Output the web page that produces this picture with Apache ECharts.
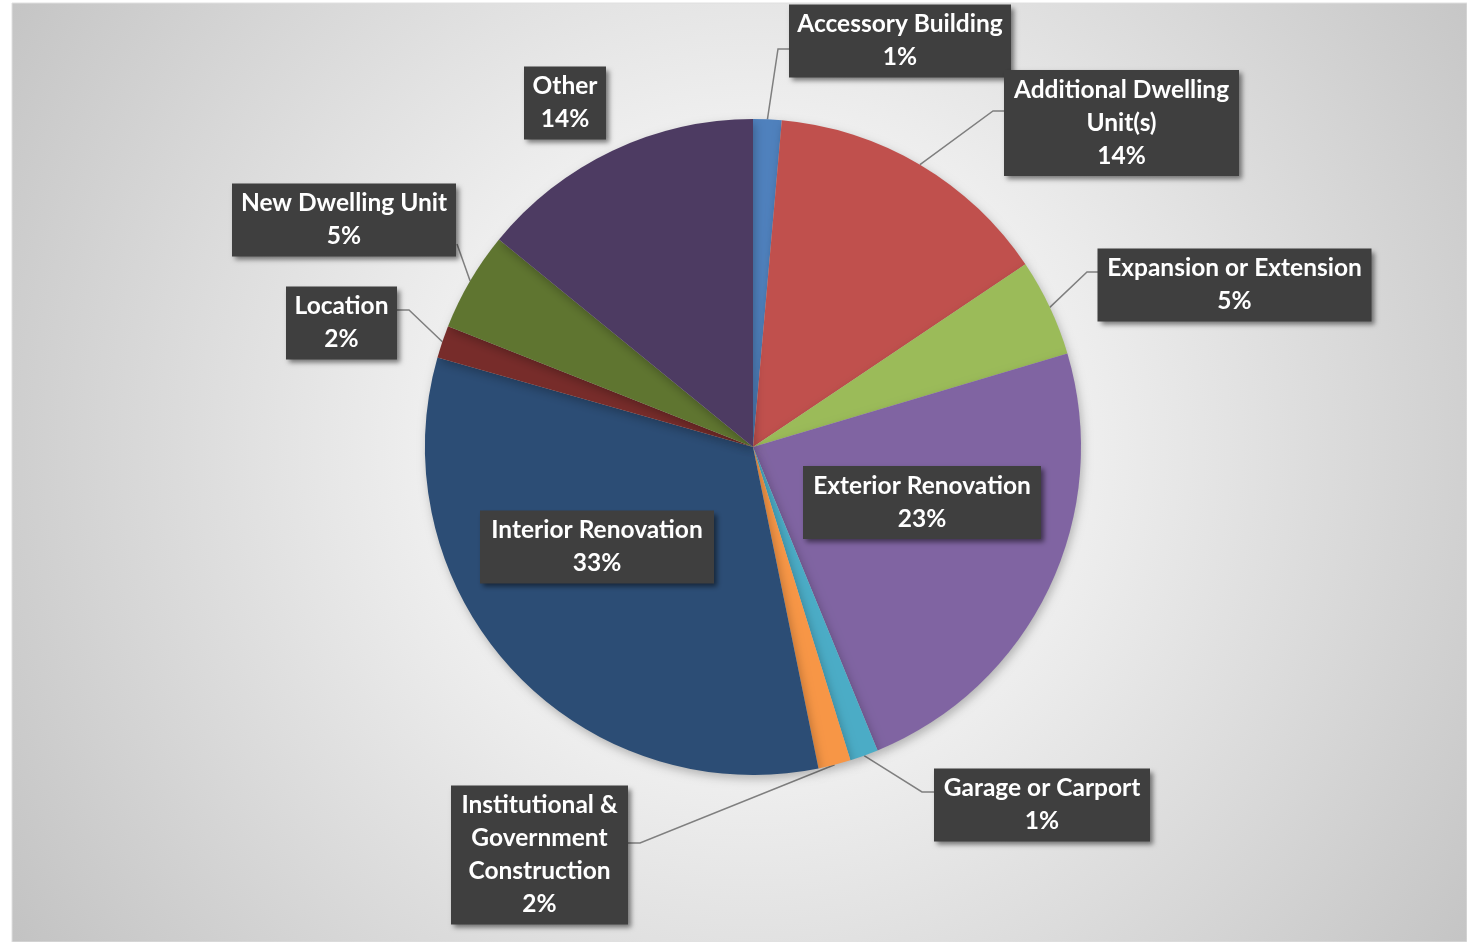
<!DOCTYPE html>
<html>
<head>
<meta charset="utf-8">
<script src="https://cdn.jsdelivr.net/npm/echarts@6/dist/echarts.min.js"></script>
<style>
html,body{margin:0;padding:0;background:#fff;}
#chart{width:1467px;height:942px;}
</style>
</head>
<body>
<div id="chart"></div>
<script>
// ---- data ----
const categories = ['Accessory Building','Additional Dwelling Unit(s)','Expansion or Extension','Exterior Renovation','Garage or Carport','Institutional & Government Construction','Interior Renovation','Location','New Dwelling Unit','Other'];
const shares = [1.4, 14.2, 4.8, 23.4, 1.4, 1.6, 32.6, 1.6, 4.9, 14.1];
const colors = ['#4F81BD','#C0504D','#9BBB59','#8064A2','#4BACC6','#F79646','#2C4D75','#772C2A','#5F7530','#4D3B62'];
const wrappedNames = {
  'Additional Dwelling Unit(s)': 'Additional Dwelling\nUnit(s)',
  'Institutional & Government Construction': 'Institutional &\nGovernment\nConstruction'
};

// ---- layout (label box centres, widths and leader-line bends, in px) ----
const labelBoxes = [
  {cx: 900,   cy: 41,    w: 222, line: [[778,49],[789,49]]},
  {cx: 1121.5,cy: 123,   w: 235, line: [[993,111],[1004,111]]},
  {cx: 1234.5,cy: 285,   w: 274, line: [[1087,272],[1098,272]]},
  {cx: 922,   cy: 502.5, w: 238, line: null},
  {cx: 1042,  cy: 805,   w: 216, line: [[922,792],[934,792]]},
  {cx: 539.5, cy: 855,   w: 177, line: [[640,843],[628,843]]},
  {cx: 597,   cy: 547,   w: 234, line: null},
  {cx: 341.5, cy: 323,   w: 111, line: [[409,310],[397,310]]},
  {cx: 344,   cy: 220,   w: 224, line: [[457,244]]},
  {cx: 565,   cy: 103,   w: 82,  line: null}
];

const chart = echarts.init(document.getElementById('chart'), null, {renderer: 'canvas'});

const data = categories.map((name, i) => ({
  name: name,
  value: shares[i],
  itemStyle: {color: colors[i]},
  label: {width: labelBoxes[i].w - 16},
  labelLine: {show: !!labelBoxes[i].line}
}));

chart.setOption({
  animation: false,
  backgroundColor: '#ffffff',
  graphic: [{
    type: 'rect',
    z: -10,
    silent: true,
    shape: {x: 12, y: 3, width: 1455, height: 939},
    style: {
      fill: {
        type: 'radial', x: 753, y: 447, r: 900, global: true,
        colorStops: [
          {offset: 0, color: '#ffffff'},
          {offset: 0.3, color: '#f3f3f3'},
          {offset: 1, color: '#c2c2c2'}
        ]
      },
      stroke: '#e0e0e0',
      lineWidth: 1
    }
  }],
  series: [{
    type: 'pie',
    center: [753, 447],
    radius: 328,
    startAngle: 90,
    clockwise: true,
    avoidLabelOverlap: false,
    emphasis: {disabled: true},
    itemStyle: {
      shadowBlur: 10,
      shadowColor: 'rgba(0,0,0,0.25)',
      shadowOffsetX: 2,
      shadowOffsetY: 4
    },
    label: {
      show: true,
      position: 'outside',
      formatter: function (p) {
        const nm = wrappedNames[p.name] || p.name;
        return nm + '\n' + Math.round(p.percent) + '%';
      },
      color: '#ffffff',
      fontFamily: 'Lato',
      fontWeight: 'bold',
      fontSize: 24.5,
      lineHeight: 33,
      align: 'center',
      overflow: 'none',
      backgroundColor: '#3f3f3f',
      padding: [7, 8, 0, 8],
      shadowColor: 'rgba(0,0,0,0.5)',
      shadowBlur: 5,
      shadowOffsetX: 3,
      shadowOffsetY: 3
    },
    labelLine: {
      show: true,
      lineStyle: {color: '#7f7f7f', width: 1.5}
    },
    labelLayout: function (params) {
      const L = labelBoxes[params.dataIndex];
      const res = {x: L.cx, y: L.cy, align: 'center', verticalAlign: 'middle'};
      if (L.line && params.labelLinePoints) {
        res.labelLinePoints = [params.labelLinePoints[0]].concat(L.line);
      }
      return res;
    },
    data: data
  }]
});
</script>
</body>
</html>
